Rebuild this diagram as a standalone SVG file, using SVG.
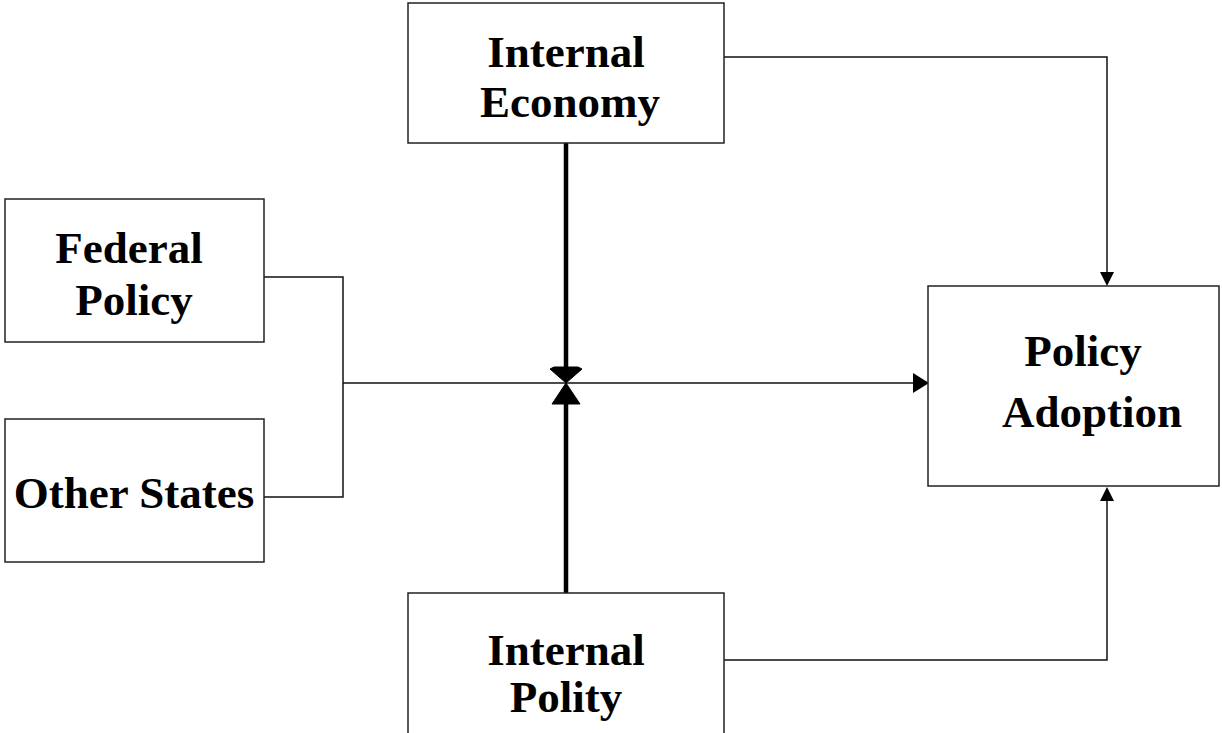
<svg xmlns="http://www.w3.org/2000/svg" width="1222" height="733" viewBox="0 0 1222 733">
<style>
.box{fill:#fff;stroke:#222;stroke-width:1.5}
.lbl{font-family:"Liberation Serif","Times New Roman",serif;font-weight:bold;font-size:45px;fill:#000;text-anchor:middle}
.thin{fill:none;stroke:#111;stroke-width:1.5}
.thick{fill:none;stroke:#000;stroke-width:4.5}
</style>
<defs>
<marker id="ah" viewBox="0 0 10 10" refX="10" refY="5" markerWidth="10" markerHeight="10" markerUnits="userSpaceOnUse" orient="auto">
<path d="M0,0 L10,5 L0,10 Z" fill="#000"/>
</marker>
</defs>
<rect width="1222" height="733" fill="#fff"/>
<g id="connectors">
<polyline class="thin" points="264,277 343,277 343,497 264,497"/>
<line class="thin" x1="343" y1="383" x2="914" y2="383"/>
<polygon points="913,373 929,383 913,393" fill="#000"/>
<polyline class="thin" points="724,57 1107,57 1107,274"/>
<polygon points="1100,272 1107,286 1114,272" fill="#000"/>
<polyline class="thin" points="724,660 1107,660 1107,500"/>
<polygon points="1100,501 1107,487 1114,501" fill="#000"/>
<line class="thick" x1="566" y1="143" x2="566" y2="370"/>
<line class="thick" x1="566" y1="593" x2="566" y2="400"/>
<polygon points="554,367 578,367 582,369 566,383 550,369" fill="#000" stroke="#000" stroke-width="1" stroke-linejoin="round"/>
<polygon points="566,383 580,404 552,404" fill="#000" stroke="#000" stroke-width="1" stroke-linejoin="round"/>
</g>
<g id="internal-economy">
<rect class="box" x="408" y="3" width="316" height="140"/>
<text class="lbl" x="566" y="67">Internal</text>
<text class="lbl" x="570" y="117">Economy</text>
</g>
<g id="federal-policy">
<rect class="box" x="5" y="199" width="259" height="143"/>
<text class="lbl" x="129" y="263">Federal</text>
<text class="lbl" x="134" y="315">Policy</text>
</g>
<g id="other-states">
<rect class="box" x="5" y="419" width="259" height="143"/>
<text class="lbl" x="134" y="508">Other States</text>
</g>
<g id="policy-adoption">
<rect class="box" x="928" y="286" width="291" height="200"/>
<text class="lbl" x="1083" y="366">Policy</text>
<text class="lbl" x="1092" y="427">Adoption</text>
</g>
<g id="internal-polity">
<rect class="box" x="408" y="593" width="316" height="150"/>
<text class="lbl" x="566" y="665">Internal</text>
<text class="lbl" x="566" y="712">Polity</text>
</g>
</svg>
